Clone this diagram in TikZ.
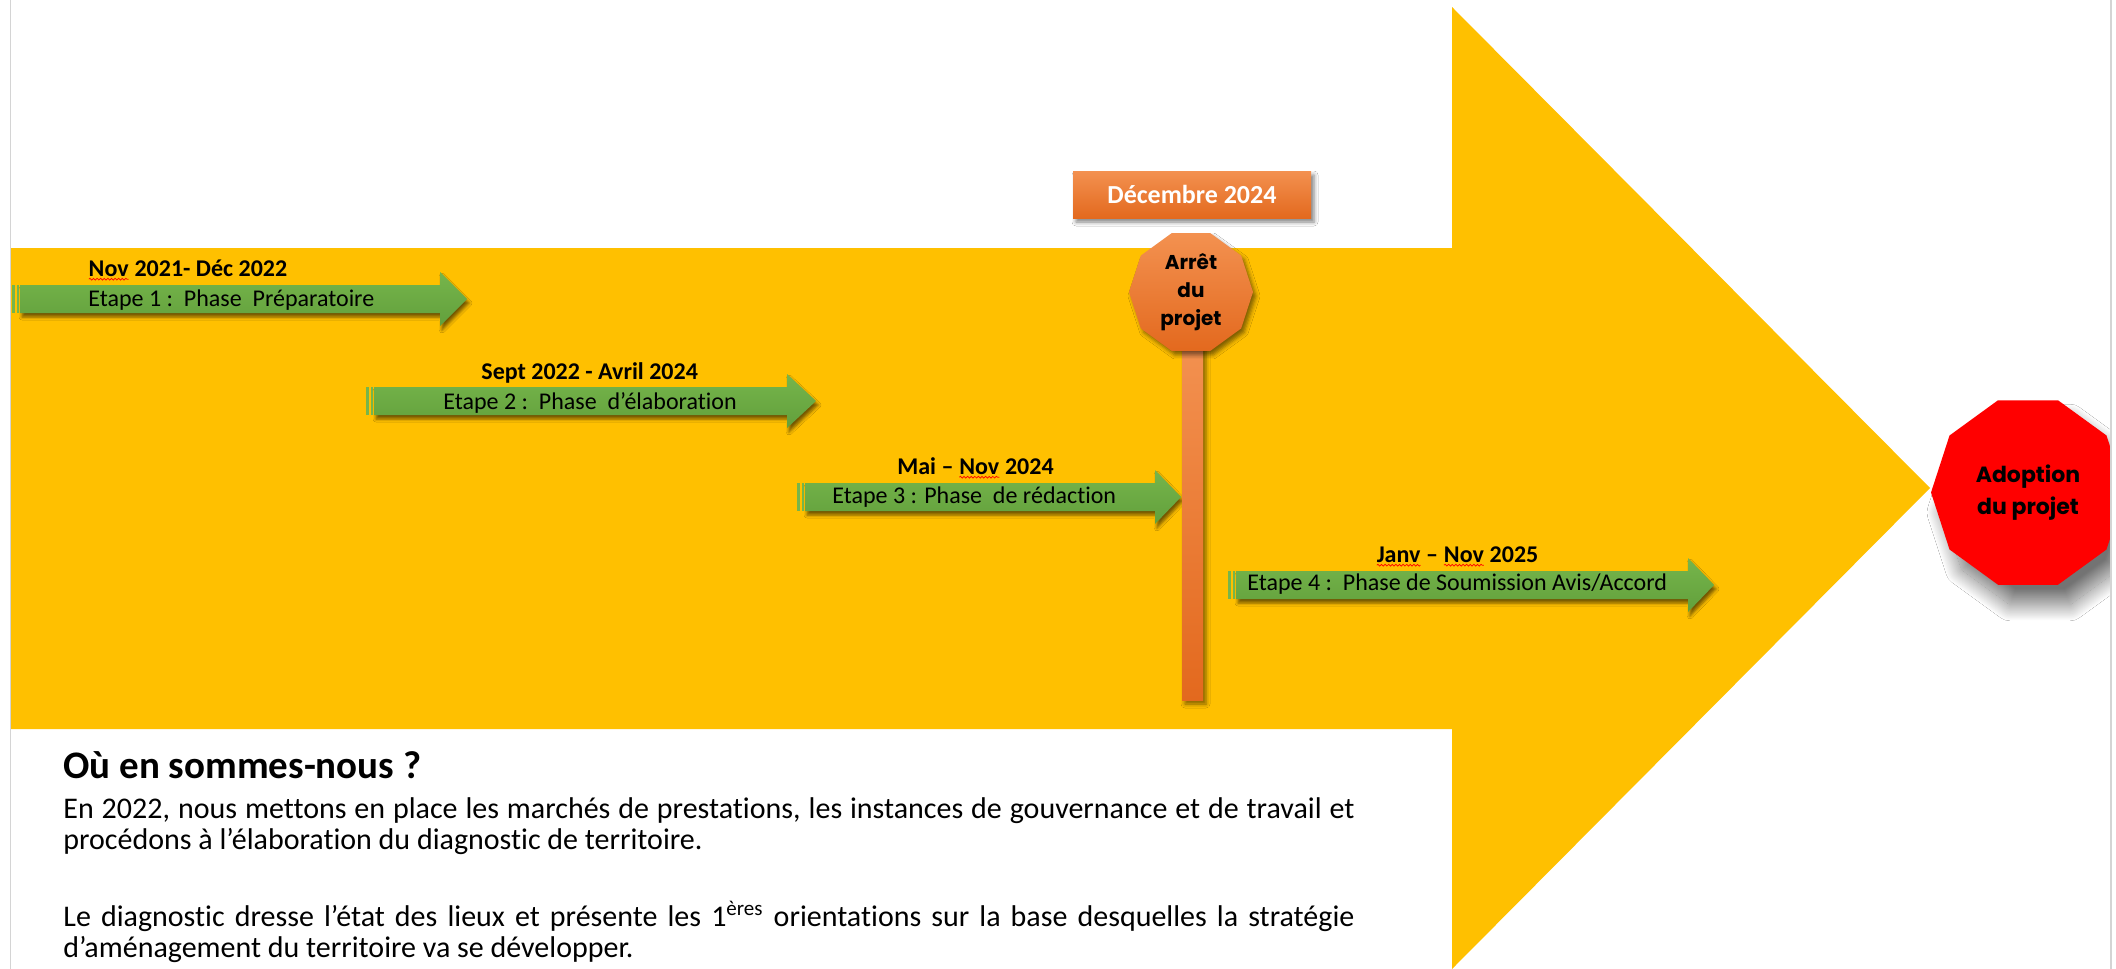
\documentclass[tikz,border=0pt]{standalone}
\usepackage{fontspec}
\setmainfont{Carlito}[Ligatures={TeX,NoCommon},RawFeature={-calt}]
\newfontfamily\geofont{Poppins}
\usetikzlibrary{shapes.geometric,shadows.blur,decorations.pathmorphing}

\definecolor{axisyellow}{HTML}{FFC000}
\definecolor{greentop}{HTML}{76B54B}
\definecolor{greenbot}{HTML}{62A03C}
\definecolor{orangetop}{HTML}{F39150}
\definecolor{orangebot}{HTML}{E3691E}
\definecolor{stopred}{HTML}{FF0000}
\definecolor{pageedge}{HTML}{D4D4D4}

% word flagged with a red wavy underline
\newcommand{\spellmark}[1]{\tikz[baseline=(sp.base)]{\node[inner sep=0pt,outer sep=0pt](sp){#1};\draw[red,line width=0.35pt,decorate,decoration={snake,amplitude=0.45pt,segment length=1.8pt}]([yshift=-1.6pt]sp.base west)--([yshift=-1.6pt]sp.base east);}}

% striped green arrow: left x, head base x, tip x, centre y
\newcommand{\phasearrow}[4]{%
  \path[phasebody] ({#1+8},{#4-14}) -- (#2,{#4-14}) -- (#2,{#4-27}) -- (#3,#4)
    -- (#2,{#4+27}) -- (#2,{#4+14}) -- ({#1+8},{#4+14}) -- cycle;
  \path[phasestripe] (#1,{#4-14}) rectangle ({#1+2.5},{#4+14});
  \path[phasestripe] ({#1+4.5},{#4-14}) rectangle ({#1+6.5},{#4+14});
}

\begin{document}
\begin{tikzpicture}[x=0.5pt,y=-0.5pt,
  phasebody/.style={top color=greentop,bottom color=greenbot,
    blur shadow={shadow xshift=1pt,shadow yshift=-2pt,shadow blur radius=1.5pt,shadow opacity=55}},
  phasestripe/.style={fill=greentop},
  datelabel/.style={anchor=base west,inner sep=0pt,font=\fontsize{12}{14}\selectfont\bfseries},
  steplabel/.style={anchor=base west,inner sep=0pt,font=\fontsize{12}{14}\selectfont},
  orangegrad/.style={top color=orangetop,bottom color=orangebot},
  softshadow/.style={blur shadow={shadow xshift=1.5pt,shadow yshift=-2pt,shadow blur radius=2pt,shadow opacity=50}},
  decagon/.style={regular polygon,regular polygon sides=10,inner sep=0pt,align=center}
]
\useasboundingbox (0,0) rectangle (2116,969);
\fill[white] (0,0) rectangle (2116,969);

% large yellow arrow carrying the timeline
\fill[axisyellow] (11,248) -- (1452,248) -- (1452,7) -- (1930,488)
  -- (1452,969) -- (1452,729) -- (11,729) -- cycle;

% phase arrows
\phasearrow{12}{440}{467}{299}
\phasearrow{366}{787}{816}{401}
\phasearrow{797}{1155}{1181}{497}
\phasearrow{1228}{1688}{1714}{585}

% phase labels
\node[datelabel] (d1) at (88,276) {\spellmark{Nov} 2021- Déc 2022};
\node[steplabel] (s1) at (88,306) {Etape 1 :\ \ Phase\ \ Préparatoire};
\node[datelabel] (d2) at (481,379) {Sept 2022 - Avril 2024};
\node[steplabel] (s2) at (443,409) {Etape 2 :\ \ Phase\ \ d’élaboration};
\node[datelabel] (d3) at (897,474) {Mai – \spellmark{Nov} 2024};
\node[steplabel] (s3) at (832,503) {Etape 3 : Phase\ \ de rédaction};
\node[datelabel] (d4) at (1376,562) {\spellmark{Janv} – \spellmark{Nov} 2025};
\node[steplabel] (s4) at (1247,590) {Etape 4 :\ \ Phase de Soumission Avis/Accord};

% milestone post
\path[orangegrad,softshadow] (1182,344) rectangle (1203,700);
\node[decagon,orangegrad,softshadow,minimum size=62pt,
  font=\geofont\fontsize{10}{14}\selectfont\bfseries] (stop) at (1191,292) {Arrêt\\du\\projet};
\node[orangegrad,softshadow,minimum width=119pt,minimum height=23.5pt,inner sep=0pt,
  text=white,font=\fontsize{13}{15}\selectfont\bfseries] (date) at (1192,194.5) {Décembre 2024};

% final milestone
\begin{scope}
\clip (0,0) rectangle (2110,969);
\node[decagon,fill=stopred,minimum size=97pt,
  blur shadow={shadow xshift=6pt,shadow yshift=-10pt,shadow blur radius=8pt,
    shadow blur steps=40,shadow opacity=55},
  font=\geofont\fontsize{11}{16}\selectfont\bfseries] (adopt) at (2028,492.5) {Adoption\\du projet};
\end{scope}

% page edges
\draw[pageedge,line width=0.9pt] (10.5,0) -- (10.5,969);
\draw[pageedge,line width=0.9pt] (2111,0) -- (2111,969);

% status text
\node[anchor=base west,inner sep=0pt,font=\fontsize{19.5}{23}\selectfont\bfseries] (title) at (63,778) {Où en sommes-nous ?};
\node[anchor=base west,inner sep=0pt,text width=645.5pt,align=justify,
  font=\fontsize{15}{15.5}\selectfont] (body) at (63,818)
  {En 2022, nous mettons en place les marchés de prestations, les instances de gouvernance et de travail et\linebreak
   procédons à l’élaboration du diagnostic de territoire.\\[23pt]
   Le diagnostic dresse l’état des lieux et présente les 1\textsuperscript{ères} orientations sur la base desquelles la stratégie\linebreak
   d’aménagement du territoire va se développer.};
\end{tikzpicture}
\end{document}
